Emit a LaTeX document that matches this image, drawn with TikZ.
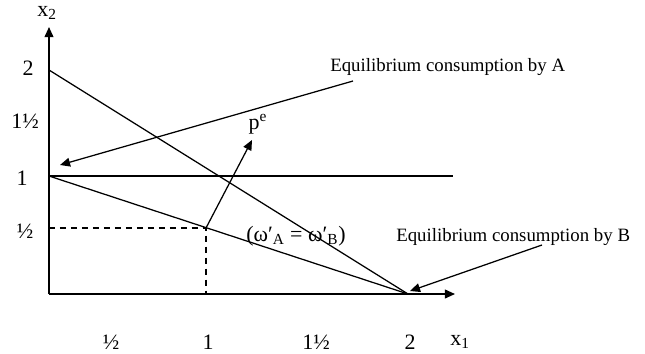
\documentclass[tikz,border=0pt]{standalone}
\usepackage{fontspec}
\setmainfont{Liberation Serif}
\usetikzlibrary{positioning,arrows.meta}

\begin{document}
\begin{tikzpicture}[x=0.6375pt, y=-0.6375pt, >={Triangle[length=6.4pt, width=5.6pt]}, every node/.style={inner sep=0pt}, big/.style={font=\fontsize{14}{16}\selectfont}, small/.style={font=\fontsize{12}{14}\selectfont}, axis/.style={->, line width=0.9pt}, budget/.style={line width=0.8pt}, guide/.style={line width=0.7pt, dash pattern=on 4pt off 3pt}, callout/.style={->, line width=0.8pt}]

\useasboundingbox (0,0) rectangle (645,353);

% points on the axes
\coordinate (o) at (49,294);
\coordinate (ytop) at (49,27);
\coordinate (xtop) at (455,294);
\coordinate (y2) at (49,70);
\coordinate (y1) at (49,176);
\coordinate (yh) at (49,228);
\coordinate (x2) at (408,294);
\coordinate (xh) at (206,294);
\coordinate (hend) at (453,176);
\coordinate (w) at (206,228);

% axis labels
\node[big] (ylab) at (47,13) {x\textsubscript{2}};
\node[big] (xlab) at (460,342) {x\textsubscript{1}};
\node[big] (t2) at (28,68) {2};
\node[big] (t32) at (25,121) {1½};
\node[big] (t1) at (22,178) {1};
\node[big] (th) at (25,231) {½};
\node[big] (sh) at (111,342) {½};
\node[big] (s1) at (208,342) {1};
\node[big] (s32) at (316,342) {1½};
\node[big] (s2) at (410,342) {2};

% labels in the plot
\node[big] (pe) at (258,124) {p\textsuperscript{e}};
\coordinate (petip) at (252,140);
\node[big] (omega) at (296,236) {(ω′\textsubscript{A} = ω′\textsubscript{B})};
\node[small, anchor=west] (eqa) at (330,67) {Equilibrium consumption by A};
\node[small, anchor=west] (eqb) at (396,237) {Equilibrium consumption by B};
\coordinate (atail) at (353,81);
\coordinate (atip) at (60,165);
\coordinate (btail) at (542,245);
\coordinate (btip) at (410,291);

\draw[axis] (o) -- (ytop);
\draw[axis] (o) -- (xtop);

\path[budget]
    (y2) edge (x2)
    (y1) edge (x2)
    (y1) edge (hend);

\draw[guide] (yh) -- (w) -- (xh);

\path
    (w) edge[callout] (petip)
    (atail) edge[callout] (atip)
    (btail) edge[callout] (btip);
\end{tikzpicture}
\end{document}
